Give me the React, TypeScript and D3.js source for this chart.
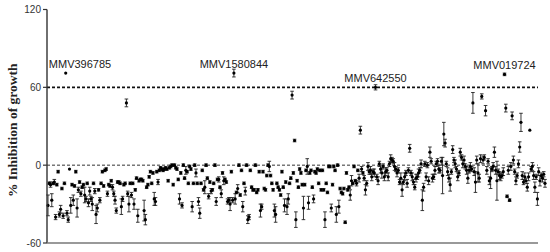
import React from "react";
import * as d3 from "d3";

// % inhibition of growth (mean) and error (SD) per compound, in plate order
const inhibition: number[] = [
  // A
  -31, -14, -15, -27, -14, -13, -40, -15, -5, -38, -34, -18, -39, -14, 71, -37, -42,
  // B
  -3, -31, -15, -27, -16, -5, -33, -19, -13, -22, -17, -15, -23, -26, -14, -29,
  // C
  -20, -26, -30, -14, -20, -38, -33, -19, -27, -14, -5, -16, -4, -3, -22, -15,
  // D
  -16, -12, -17, -22, -27, -35, -13, -13, -14, -32, -26, -15, -14, 48, -22, -30, -14,
  // E
  -23, -14, -30, -19, -10, -39, -12, -11, -11, -12, -35, -42, -17, -15, -9, -5,
  // F
  -14, -6, -26, -28, -5, -13, -4, -2, -3, -4, -3, -2, -3, -12, -2, -1,
  // G
  0, -15, 0, -2, -3, -11, -26, -6, -31, 0, -10, -4, -5, -14, -1, -3,
  // H
  -32, -14, 0, -6, -14, -28, -37, -14, -4, -19, -17, 0, -10, -24, -13, -20,
  // I
  -19, -14, 0, -28, -11, -11, -17, -22, -6, -12, -11, -13, -28, -27, -30, -5,
  // J
  -27, 71, -26, -21, -18, 0, -23, -4, -32, -14, -20, 0, -42, -40, -4, -17, -19,
  // K
  -19, 0, -21, -19, -5, -35, -32, -5, -18, -19, -8, 0, -1, -8, -14, -19,
  // L
  -35, -38, -14, -17, -19, -23, -5, -17, -31, -13, -32, -26, -14, -10, 54, -6,
  // M
  19, -42, -12, -17, -3, -6, -15, -33, -15, -4, -1, -29, -6, -4, -17, -26, -5,
  // N
  -6, -3, -14, -4, -19, -4, -19, -42, -14, -21, -1, -1, -33, -15, -1, -4,
  // O
  -38, 0, -32, -18, -21, -22, -18, -44, -6, -19, -17, -23, -12, -14, -1, -12,
  // P
  -14, -4, -10, 27, -3, -6, -10, -19, -14, -1, -5, -4, -9, -5, -6, 60, -9, -12,
  // Q
  1, -3, -6, -1, -9, -5, -4, -9, 1, 5, 4, 3, -1, -3, -6, -4,
  // R
  -13, -10, -19, -13, -9, -6, -14, -4, 13, -6, -9, -13, -17, -10, -9, -6,
  // S
  -4, 1, -27, -17, 1, -9, 0, -12, 10, 3, -10, -9, -4, 1, 3, -3,
  // T
  -4, 3, -8, 24, 17, 1, -5, -10, -15, -5, 12, 4, 1, -3, -9, -6,
  // U
  10, 6, 1, 4, -1, -4, -10, -4, -1, -3, 48, -5, -13, 4, -6, -10,
  // V
  5, 53, 4, 6, 42, -4, 3, -12, -10, -3, -1, 10, -4, -12, -5, -8,
  // W
  -9, -8, -5, 70, 44, -24, -4, -27, -1, 38, 4, -5, -12, -8, 1,
  // X
  14, 33, -8, -13, -9, -12, -17, -9, 27, -3, -1, -8, -17, -9,
  // Y
  -26, -5, -12, -8, -10, -7, -14,
];

const errorSD: number[] = [
  // A
  8, 1, 2, 5, 1, 2, 2, 1, 1, 2, 3, 1, 2, 1, 0, 2, 2,
  // B
  0, 6, 1, 4, 1, 1, 7, 2, 1, 2, 1, 1, 6, 2, 1, 3,
  // C
  3, 2, 5, 1, 2, 7, 3, 1, 2, 1, 1, 1, 1, 1, 2, 1,
  // D
  1, 1, 2, 2, 3, 2, 1, 1, 1, 6, 2, 1, 1, 3, 2, 6, 1,
  // E
  2, 1, 4, 1, 1, 5, 1, 1, 1, 1, 8, 4, 1, 1, 1, 1,
  // F
  1, 1, 5, 3, 1, 2, 1, 1, 1, 1, 1, 1, 1, 1, 1, 1,
  // G
  1, 1, 1, 1, 1, 1, 4, 1, 2, 1, 1, 3, 1, 1, 1, 1,
  // H
  4, 1, 1, 3, 1, 3, 4, 1, 1, 1, 5, 1, 1, 2, 1, 2,
  // I
  1, 1, 1, 3, 1, 2, 1, 3, 1, 3, 1, 1, 2, 2, 5, 1,
  // J
  2, 3, 4, 1, 3, 1, 1, 1, 4, 1, 3, 1, 3, 2, 1, 1, 1,
  // K
  1, 1, 1, 1, 1, 5, 2, 1, 1, 1, 1, 1, 4, 1, 1, 1,
  // L
  5, 6, 1, 1, 1, 1, 1, 1, 5, 1, 6, 4, 1, 1, 3, 1,
  // M
  1, 6, 1, 1, 1, 1, 1, 9, 1, 1, 6, 5, 1, 1, 1, 3, 1,
  // N
  1, 1, 1, 1, 1, 1, 1, 6, 1, 1, 1, 1, 3, 1, 1, 1,
  // O
  6, 1, 5, 1, 1, 1, 1, 1, 1, 1, 1, 4, 4, 1, 1, 1,
  // P
  2, 1, 3, 3, 2, 1, 2, 4, 2, 3, 2, 3, 3, 2, 3, 2, 2, 3,
  // Q
  2, 3, 4, 2, 3, 3, 2, 3, 2, 3, 2, 2, 3, 2, 3, 2,
  // R
  2, 4, 5, 2, 3, 2, 3, 2, 3, 2, 3, 2, 2, 3, 2, 3,
  // S
  2, 3, 8, 3, 2, 3, 2, 3, 4, 2, 3, 2, 3, 2, 2, 3,
  // T
  2, 3, 14, 9, 3, 2, 3, 3, 5, 2, 3, 2, 3, 2, 3, 2,
  // U
  3, 2, 3, 3, 2, 3, 4, 2, 3, 2, 8, 3, 8, 3, 7, 3,
  // V
  3, 2, 3, 2, 4, 3, 2, 3, 8, 2, 3, 4, 3, 15, 2, 3,
  // W
  3, 2, 3, 1, 3, 1, 3, 1, 3, 3, 3, 2, 3, 2, 3,
  // X
  4, 7, 3, 2, 3, 2, 3, 3, 0, 2, 3, 3, 4, 2,
  // Y
  5, 3, 4, 2, 3, 2, 3,
];

const labelNames: string[] = ["MMV396785", "MMV1580844", "MMV642550", "MMV019724"];
const labelIndex: number[] = [14, 147, 259, 361];

const yTicks: number[] = [-60, 0, 60, 120];
const thresholds: number[] = [0, 60];

export default function App() {
  const W = 550;
  const H = 252;
  const axisX = 47;
  const axisEnd = 538;
  const n = inhibition.length;

  const x = d3.scaleLinear().domain([0, n - 1]).range([48, 545]);
  const y = d3.scaleLinear().domain([-60, 120]).range([243, 9.5]);

  const font = "'Liberation Sans', Arial, sans-serif";

  return (
    <svg
      width={W}
      height={H}
      style={{ position: "absolute", left: 0, top: 0, background: "#fff" }}
    >
      {/* threshold lines */}
      {thresholds.map((t) => (
        <line
          key={t}
          x1={axisX}
          x2={axisEnd}
          y1={y(t)}
          y2={y(t)}
          stroke={t === 60 ? "#111" : "#333"}
          strokeWidth={t === 60 ? 1.6 : 1}
          strokeDasharray="3,2"
        />
      ))}

      {/* error bars */}
      <g stroke="#222" strokeWidth={0.9}>
        {inhibition.map((v, i) => {
          const e = errorSD[i];
          if (!e) return null;
          const cx = x(i);
          return (
            <g key={i}>
              <line x1={cx} x2={cx} y1={y(v - e)} y2={y(v + e)} />
              <line x1={cx - 1.8} x2={cx + 1.8} y1={y(v - e)} y2={y(v - e)} />
              <line x1={cx - 1.8} x2={cx + 1.8} y1={y(v + e)} y2={y(v + e)} />
            </g>
          );
        })}
      </g>

      {/* points */}
      <g fill="#000">
        {inhibition.map((v, i) => (
          <circle key={i} cx={x(i)} cy={y(v)} r={1.6} />
        ))}
      </g>

      {/* axes */}
      <line x1={axisX} x2={axisX} y1={y(120)} y2={y(-60)} stroke="#333" strokeWidth={1.4} />
      <line x1={axisX} x2={axisEnd} y1={y(-60)} y2={y(-60)} stroke="#777" strokeWidth={1.6} />
      {yTicks.map((t) => (
        <g key={t}>
          <line x1={axisX - 4} x2={axisX} y1={y(t)} y2={y(t)} stroke="#333" strokeWidth={1.2} />
          <text
            x={axisX - 6}
            y={y(t)}
            textAnchor="end"
            dominantBaseline="central"
            fontFamily={font}
            fontSize={10}
            fill="#333"
          >
            {t}
          </text>
        </g>
      ))}

      {/* compound labels */}
      {labelNames.map((name, k) => {
        const i = labelIndex[k];
        const cx = x(i);
        const half = 31;
        const tx = Math.max(cx, axisX + 2 + half);
        return (
          <text
            key={name}
            x={tx}
            y={y(inhibition[i]) - 5.5}
            textAnchor="middle"
            fontFamily={font}
            fontSize={11}
            fill="#222"
          >
            {name}
          </text>
        );
      })}

      {/* y title */}
      <text
        transform={`translate(17, ${(y(120) + y(-60)) / 2 + 4}) rotate(-90)`}
        textAnchor="middle"
        fontFamily="'Liberation Serif', 'Times New Roman', serif"
        fontWeight="bold"
        fontSize={13.5}
        fill="#222"
      >
        % Inhibition of growth
      </text>
    </svg>
  );
}
